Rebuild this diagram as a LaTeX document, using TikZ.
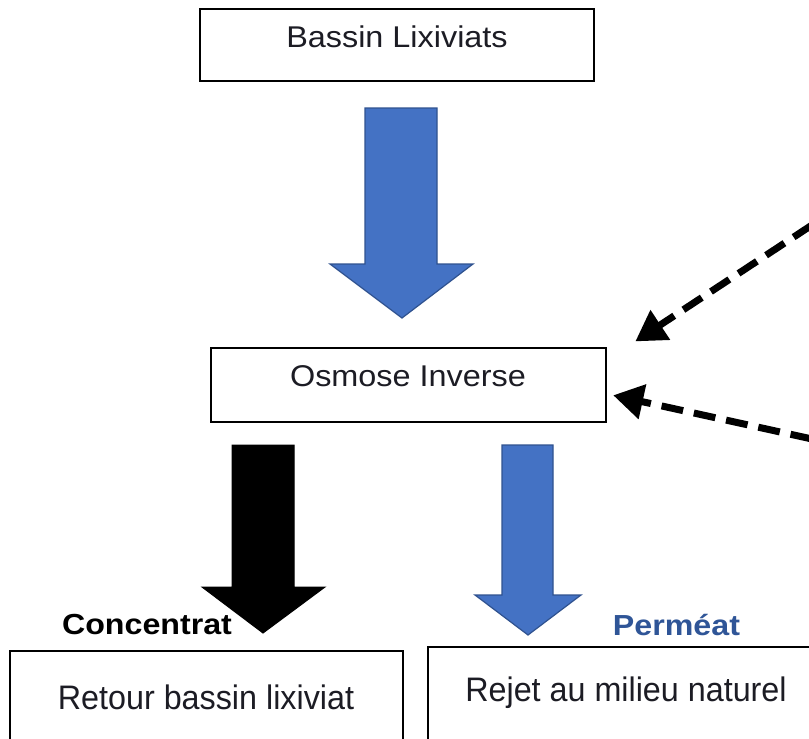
\documentclass[tikz,border=0pt]{standalone}
\usepackage{fontspec}
\usepackage{graphicx}
\setmainfont{Liberation Sans}
\usetikzlibrary{arrows.meta}
\definecolor{fillblue}{HTML}{4472C4}
\definecolor{edgeblue}{HTML}{2F528F}
\definecolor{labblue}{HTML}{2F5597}
\definecolor{txtgray}{HTML}{1C1C24}
\tikzset{
  boxnode/.style={draw=black, line width=1.2pt, fill=white, inner sep=0pt},
  boxtext/.style={text=txtgray, inner sep=0pt, anchor=center},
  bluearrow/.style={fill=fillblue, draw=edgeblue, line width=1.2pt, line join=miter},
  blackarrow/.style={fill=black, draw=black, line width=1pt},
  feedarrow/.style={draw=black, line width=7pt, dash pattern=on 22pt off 11pt, -{Triangle[length=30pt,width=34pt]}, shorten >=-8pt}
}
\begin{document}
\begin{tikzpicture}[x=1pt,y=-1pt]
\useasboundingbox (0,0) rectangle (809,739);
\clip (0,0) rectangle (809,739);
% boxes
\node[boxnode, minimum width=394pt, minimum height=72pt] (bassin) at (397,45) {};
\node[boxtext] (tbassin) at (397,37) {\fontsize{30}{32}\selectfont\scalebox{1.08}[1]{Bassin Lixiviats}};
\node[boxnode, minimum width=395pt, minimum height=74pt] (osmose) at (408.5,385) {};
\node[boxtext] (tosmose) at (408,376) {\fontsize{30}{32}\selectfont\scalebox{1.08}[1]{Osmose Inverse}};
\node[boxnode, minimum width=393pt, minimum height=100pt] (retour) at (206.5,701) {};
\node[boxtext] (tretour) at (206,697) {\fontsize{34}{36}\selectfont\scalebox{0.95}[1]{Retour bassin lixiviat}};
\node[boxnode, minimum width=390pt, minimum height=104pt] (rejet) at (623,699) {};
\node[boxtext] (trejet) at (626,693) {\fontsize{34}{36}\selectfont\scalebox{0.95}[1]{Rejet au milieu naturel}};
% labels
\node[inner sep=0pt] (lconc) at (147,625) {\fontsize{29}{31}\selectfont\bfseries\scalebox{1.11}[1]{Concentrat}};
\node[inner sep=0pt, text=labblue] (lperm) at (676.5,625) {\fontsize{29}{31}\selectfont\bfseries\scalebox{1.11}[1]{Perméat}};
% block arrows
\draw[bluearrow] (365,108) -- (437,108) -- (437,264) -- (473,264) -- (402,318) -- (330,264) -- (365,264) -- cycle;
\draw[blackarrow] (232,445) -- (294,445) -- (294,587) -- (325,587) -- (263,633) -- (202,587) -- (232,587) -- cycle;
\draw[bluearrow] (502,445) -- (553,445) -- (553,595) -- (581,595) -- (528,635) -- (475,595) -- (502,595) -- cycle;
% dashed feed arrows
\coordinate (srcA) at (812,225);
\coordinate (srcB) at (812,439);
\coordinate (tipA) at (642,337);
\coordinate (tipB) at (621,397);
\draw[feedarrow] (srcA) -- (tipA);
\draw[feedarrow] (srcB) -- (tipB);
\end{tikzpicture}
\end{document}
